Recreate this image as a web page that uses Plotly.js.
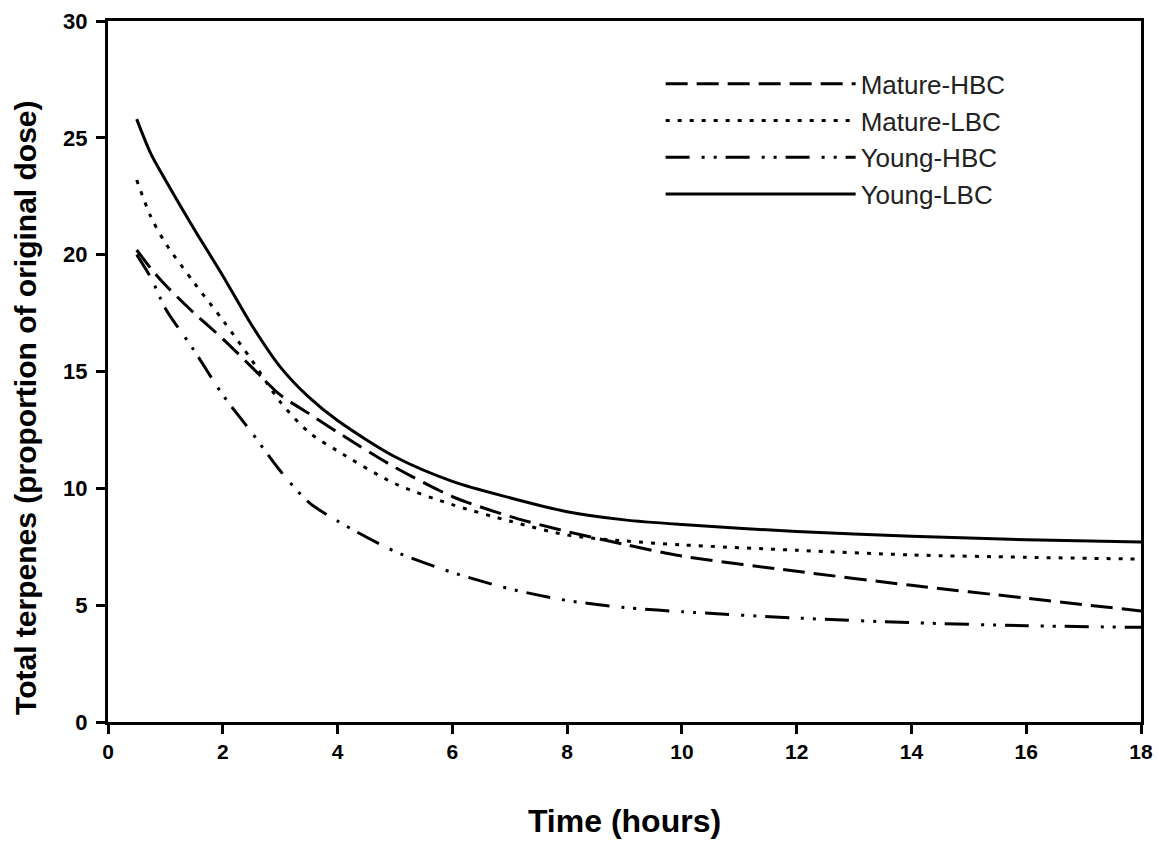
<!DOCTYPE html>
<html>
<head>
<meta charset="utf-8">
<script src="https://cdn.plot.ly/plotly-3.0.1.min.js"></script>
<style>html,body{margin:0;padding:0;background:#fff;}#chart{width:1159px;height:842px;}</style>
</head>
<body>
<div id="chart"></div>
<script>
// Time points (hours)
const time = [0.5, 0.75, 1, 1.5, 2, 2.5, 3, 3.5, 4, 5, 6, 7, 8, 9, 10, 12, 14, 16, 18];

// Total terpenes (proportion of original dose)
const matureHBC = [20.2, 19.4, 18.7, 17.5, 16.4, 15.2, 14.0, 13.2, 12.4, 10.9, 9.65, 8.8, 8.15, 7.6, 7.1, 6.45, 5.85, 5.3, 4.75];
const matureLBC = [23.2, 21.6, 20.5, 18.8, 17.2, 15.5, 13.7, 12.4, 11.6, 10.2, 9.3, 8.6, 8.0, 7.75, 7.58, 7.35, 7.15, 7.05, 6.97];
const youngHBC  = [20.0, 19.0, 17.7, 15.9, 14.0, 12.4, 10.75, 9.4, 8.6, 7.3, 6.4, 5.7, 5.2, 4.9, 4.72, 4.45, 4.25, 4.12, 4.05];
const youngLBC  = [25.8, 24.3, 23.2, 21.1, 19.1, 17.0, 15.2, 13.9, 12.9, 11.35, 10.3, 9.6, 9.0, 8.65, 8.45, 8.15, 7.95, 7.8, 7.7];

const seriesNames = ["Mature-HBC", "Mature-LBC", "Young-HBC", "Young-LBC"];
const xTicks = [0, 2, 4, 6, 8, 10, 12, 14, 16, 18];
const yTicks = [0, 5, 10, 15, 20, 25, 30];
const xTitle = "Time (hours)";
const yTitle = "Total terpenes (proportion of original dose)";

const dashes = ["22px,9px", "4px,8px", "24px,12px,3px,9px,3px,9px", "solid"];
const values = [matureHBC, matureLBC, youngHBC, youngLBC];

const traces = values.map((v, i) => ({
  x: time, y: v, name: seriesNames[i], type: "scatter", mode: "lines",
  line: {color: "#000", width: 3, dash: dashes[i], shape: "spline", smoothing: 0.8}
}));

const font = "Liberation Sans, Arial, sans-serif";

const layout = {
  width: 1159, height: 842,
  margin: {l: 108, r: 18, t: 21, b: 120},
  paper_bgcolor: "#fff", plot_bgcolor: "#fff",
  font: {family: font, color: "#000"},
  showlegend: true,
  legend: {
    x: 0.535, y: 0.944, xanchor: "left", yanchor: "top",
    font: {family: font, size: 26, color: "#222"},
    itemwidth: 190, bgcolor: "rgba(0,0,0,0)", borderwidth: 0,
    tracegroupgap: 0
  },
  xaxis: {
    range: [0, 18], tickvals: xTicks, ticktext: xTicks.map(String),
    showgrid: false, zeroline: false,
    showline: true, linecolor: "#000", linewidth: 3, mirror: true,
    ticks: "outside", ticklen: 9, tickwidth: 3, tickcolor: "#000",
    tickfont: {family: font, size: 21, color: "#000", weight: "bold"},
    title: {text: "<b>" + xTitle + "</b>", font: {family: font, size: 32, color: "#000"}, standoff: 48}
  },
  yaxis: {
    range: [0, 30], tickvals: yTicks, ticktext: yTicks.map(String),
    showgrid: false, zeroline: false,
    showline: true, linecolor: "#000", linewidth: 3, mirror: true,
    ticks: "outside", ticklen: 9, tickwidth: 3, tickcolor: "#000",
    ticklabelstandoff: 4,
    tickfont: {family: font, size: 22, color: "#000", weight: "bold"}
  },
  annotations: [{
    text: "<b>" + yTitle + "</b>", xref: "paper", yref: "paper",
    x: -0.0794, y: 0.448, xanchor: "center", yanchor: "middle",
    textangle: -90, showarrow: false,
    font: {family: font, size: 30, color: "#000"}
  }]
};

Plotly.newPlot("chart", traces, layout, {displayModeBar: false, staticPlot: true});
</script>
</body>
</html>
